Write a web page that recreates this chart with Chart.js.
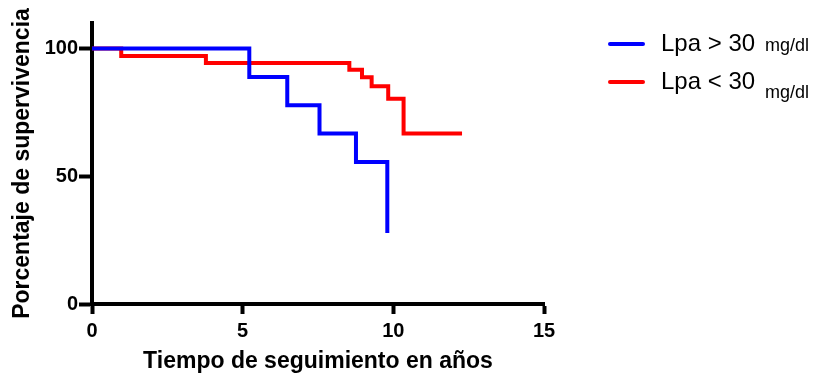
<!DOCTYPE html>
<html>
<head>
<meta charset="utf-8">
<script src="https://cdn.jsdelivr.net/npm/chart.js@4/dist/chart.umd.min.js"></script>
<style>
  html, body { margin: 0; padding: 0; background: #fff; }
  #wrap { width: 817px; height: 375px; }
</style>
</head>
<body>
<div id="wrap"><canvas id="km"></canvas></div>
<script>
// survival steps (years, % surviving)
const blueTimes = [0, 5.22, 6.48, 7.55, 8.76, 9.8];
const blueSurvival = [100, 88.9, 77.8, 66.7, 55.6, 27.8];
const redTimes = [0, 0.97, 3.78, 8.54, 8.96, 9.28, 9.83, 10.34, 12.28];
const redSurvival = [100, 97.1, 94.3, 91.7, 88.8, 85.2, 80.3, 66.7, 66.7];

const xTicks = [0, 5, 10, 15];
const yTicks = [0, 50, 100];

const legendNames = ['Lpa > 30', 'Lpa < 30'];
const legendUnits = ['mg/dl', 'mg/dl'];

const colorBlue = '#0000ff';
const colorRed = '#ff0000';
const font = '"Liberation Sans", Arial, Helvetica, sans-serif';

function toPoints(times, values) {
  return times.map((t, i) => ({ x: t, y: values[i] }));
}

// legend with the small unit text, drawn by hand
const kmLegend = {
  id: 'kmLegend',
  afterDraw(chart) {
    const { ctx } = chart;
    const colors = [colorBlue, colorRed];
    const lineY = [44, 82];
    const textBase = [51, 89];
    const unitBase = [51, 98];
    ctx.save();
    legendNames.forEach((name, i) => {
      ctx.strokeStyle = colors[i];
      ctx.lineWidth = 4;
      ctx.lineCap = 'round';
      ctx.beginPath();
      ctx.moveTo(610, lineY[i]);
      ctx.lineTo(643, lineY[i]);
      ctx.stroke();

      ctx.fillStyle = '#000';
      ctx.textBaseline = 'alphabetic';
      ctx.textAlign = 'left';
      ctx.font = '24px ' + font;
      ctx.fillText(name, 661, textBase[i]);
      ctx.font = '18px ' + font;
      ctx.fillText(legendUnits[i], 765, unitBase[i]);
    });
    ctx.restore();
  },
};

const chart = new Chart(document.getElementById('km'), {
  type: 'line',
  data: {
    datasets: [
      {
        label: legendNames[0],
        data: toPoints(blueTimes, blueSurvival),
        borderColor: colorBlue,
        borderWidth: 4,
        stepped: true,
        pointRadius: 0,
        fill: false,
        order: 1,
      },
      {
        label: legendNames[1],
        data: toPoints(redTimes, redSurvival),
        borderColor: colorRed,
        borderWidth: 4,
        stepped: true,
        pointRadius: 0,
        fill: false,
        order: 2,
      },
    ],
  },
  options: {
    responsive: true,
    maintainAspectRatio: false,
    animation: false,
    layout: {
      padding: { left: 0, right: 273, top: 23, bottom: 0 },
    },
    plugins: {
      legend: { display: false },
      tooltip: { enabled: false },
    },
    scales: {
      x: {
        type: 'linear',
        min: 0,
        max: 15,
        afterBuildTicks: (scale) => {
          scale.ticks = xTicks.map((v) => ({ value: v }));
        },
        afterFit: (scale) => {
          scale.height = 71;
        },
        border: { display: true, color: '#000', width: 4 },
        grid: {
          drawOnChartArea: false,
          drawTicks: true,
          tickLength: 10,
          tickColor: '#000',
          tickWidth: 4,
        },
        ticks: {
          color: '#000',
          padding: 5,
          maxRotation: 0,
          font: { family: font, size: 20, weight: 'bold' },
        },
        title: {
          display: true,
          text: 'Tiempo de seguimiento en años',
          color: '#000',
          padding: { top: 10, bottom: 0 },
          font: { family: font, size: 23, weight: 'bold' },
        },
      },
      y: {
        type: 'linear',
        min: 0,
        max: 110,
        afterBuildTicks: (scale) => {
          scale.ticks = yTicks.map((v) => ({ value: v }));
        },
        afterFit: (scale) => {
          scale.width = 92;
        },
        border: { display: true, color: '#000', width: 4 },
        grid: {
          drawOnChartArea: false,
          drawTicks: true,
          tickLength: 13,
          tickColor: '#000',
          tickWidth: 4,
        },
        ticks: {
          color: '#000',
          padding: 1,
          font: { family: font, size: 20, weight: 'bold' },
        },
        title: {
          display: true,
          text: 'Porcentaje de supervivencia',
          color: '#000',
          padding: { top: 9, bottom: 0 },
          font: { family: font, size: 23, weight: 'bold' },
        },
      },
    },
  },
  plugins: [kmLegend],
});
</script>
</body>
</html>
